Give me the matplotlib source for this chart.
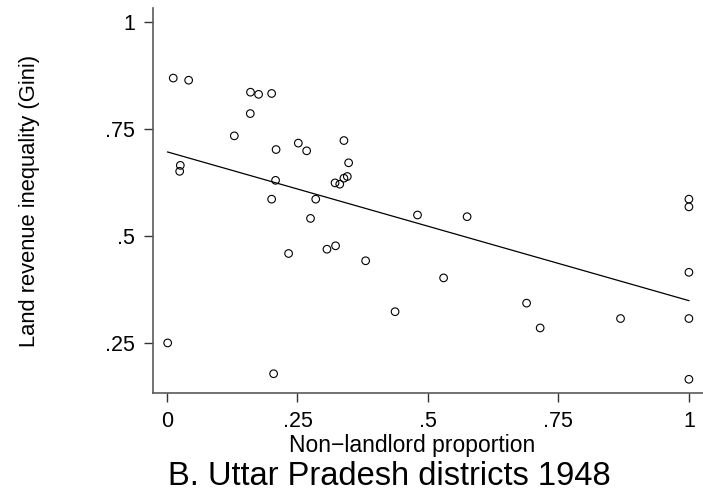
import numpy as np
import matplotlib
matplotlib.use("Agg")
import matplotlib.pyplot as plt

plt.rcParams['font.family'] = ['Liberation Sans', 'DejaVu Sans']

# non-landlord proportion and land revenue gini, UP districts 1948
nonlandlord = [0.012, 0.0415, 0.160, 0.1755, 0.2005, 0.1596, 0.129, 0.2516,
               0.2676, 0.209, 0.339, 0.348, 0.0255, 0.0243, 0.208, 0.322,
               0.331, 0.339, 0.3455, 0.2005, 0.285, 0.275, 0.233, 0.3065,
               0.323, 0.3806, 0.437, 0.0013, 0.2043, 0.480, 0.575, 0.530,
               0.689, 0.715, 0.869, 1.0, 1.0, 1.0, 1.0, 1.0]
gini = [0.869, 0.864, 0.836, 0.831, 0.833, 0.786, 0.734, 0.717,
        0.699, 0.702, 0.723, 0.671, 0.665, 0.651, 0.630, 0.624,
        0.621, 0.635, 0.639, 0.586, 0.586, 0.541, 0.459, 0.469,
        0.477, 0.442, 0.323, 0.250, 0.178, 0.549, 0.545, 0.402,
        0.343, 0.285, 0.307, 0.586, 0.568, 0.415, 0.307, 0.165]

xticks = [0, 0.25, 0.5, 0.75, 1]
xticklabels = ['0', '.25', '.5', '.75', '1']
yticks = [0.25, 0.5, 0.75, 1]
yticklabels = ['.25', '.5', '.75', '1']


def main():
    x = np.array(nonlandlord)
    y = np.array(gini)

    fig = plt.figure(figsize=(7.03, 4.96), dpi=100)
    ax = fig.add_axes([0.2172, 0.2077, 0.7828, 0.7755])

    ax.scatter(x, y, s=30, facecolors='none', edgecolors='black', linewidths=0.8, zorder=3)

    # linear fit
    b, a = np.polyfit(x, y, 1)
    xs = np.array([x.min(), x.max()])
    ax.plot(xs, a + b * xs, color='black', lw=0.9)

    ax.set_xlim(-0.0274, 1.027)
    ax.set_ylim(0.133, 1.032)
    ax.set_xticks(xticks)
    ax.set_xticklabels(xticklabels)
    ax.set_yticks(yticks)
    ax.set_yticklabels(yticklabels)

    for s in ['top', 'right']:
        ax.spines[s].set_visible(False)
    for s in ['left', 'bottom']:
        ax.spines[s].set_color('#5a5a5a')
        ax.spines[s].set_linewidth(1.2)
    ax.tick_params(axis='both', direction='out', length=6.7, width=1.0,
                   color='#333333', labelsize=15.5, pad=6)

    # ylabel sits well away from tick labels
    fig.text(30 / 703, 1 - 201 / 496, 'Land revenue inequality (Gini)', fontsize=15.8,
             rotation=90, ha='center', va='center')

    fig.text(412 / 703, 1 - 452 / 496, 'Non\u2212landlord proportion', fontsize=16.5,
             ha='center', va='baseline')
    fig.text(389 / 703, 1 - 485 / 496, 'B. Uttar Pradesh districts 1948', fontsize=23.5,
             ha='center', va='baseline')

    fig.savefig('out.png', dpi=100)


if __name__ == '__main__':
    main()
